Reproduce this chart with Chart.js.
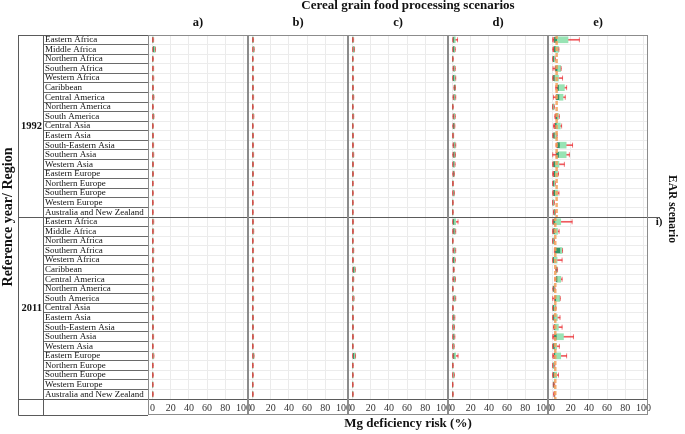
<!DOCTYPE html>
<html>
<head>
<meta charset="utf-8">
<script src="https://cdn.jsdelivr.net/npm/chart.js@4.4.1/dist/chart.umd.min.js"></script>
<style>
  body { margin: 0; background: #fff; }
</style>
</head>
<body>
<canvas id="graficoMg" width="685" height="434"></canvas>
<script>
// Regiões (mesma ordem nos dois anos de referência)
const regioes = ['Eastern Africa', 'Middle Africa', 'Northern Africa', 'Southern Africa', 'Western Africa',
  'Caribbean', 'Central America', 'Northern America', 'South America', 'Central Asia', 'Eastern Asia',
  'South-Eastern Asia', 'Southern Asia', 'Western Asia', 'Eastern Europe', 'Northern Europe',
  'Southern Europe', 'Western Europe', 'Australia and New Zealand'];
const anos = ['1992', '2011'];
const cenarios = ['a)', 'b)', 'c)', 'd)', 'e)'];
const ticksX = [0, 20, 40, 60, 80, 100];

// [mín, q1, mediana, q3, máx] do risco (%): 19 linhas de 1992 e depois 19 de 2011
const cenarioA = [
  [0, 0.1, 0.5, 1, 1.2], [0, 0.5, 1.5, 3, 3.2], [0, 0.1, 0.3, 0.7, 0.9], [0, 0.2, 0.6, 1, 1.2], [0, 0.2, 0.6, 1, 1.3],
  [0, 0.1, 0.4, 0.8, 1], [0, 0.3, 0.8, 1.3, 1.5], [0, 0.1, 0.3, 0.7, 0.9], [0, 0.3, 0.8, 1.3, 1.5], [0, 0.1, 0.3, 0.7, 0.9],
  [0, 0.1, 0.4, 0.8, 1], [0, 0.2, 0.6, 1, 1.2], [0, 0.2, 0.6, 1.1, 1.3], [0, 0.1, 0.4, 0.8, 1], [0, 0.1, 0.4, 0.8, 1],
  [0, 0.1, 0.3, 0.6, 0.8], [0, 0.1, 0.3, 0.6, 0.8], [0, 0.1, 0.3, 0.6, 0.8], [0, 0.1, 0.3, 0.6, 0.8],
  [0, 0.2, 0.6, 1, 1.3], [0, 0.2, 0.6, 1, 1.2], [0, 0.1, 0.3, 0.6, 0.8], [0, 0.2, 0.6, 1.1, 1.3], [0, 0.2, 0.6, 1, 1.2],
  [0, 0.1, 0.4, 0.8, 1], [0, 0.2, 0.7, 1.2, 1.4], [0, 0.1, 0.3, 0.6, 0.8], [0, 0.2, 0.7, 1.2, 1.4], [0, 0.1, 0.3, 0.6, 0.8],
  [0, 0.1, 0.5, 0.9, 1.1], [0, 0.1, 0.4, 0.8, 1], [0, 0.2, 0.6, 1, 1.2], [0, 0.1, 0.3, 0.6, 0.8], [0, 0.2, 0.7, 1.2, 1.5],
  [0, 0.1, 0.3, 0.6, 0.8], [0, 0.1, 0.3, 0.6, 0.8], [0, 0.1, 0.2, 0.5, 0.7], [0, 0.1, 0.3, 0.6, 0.8]
];
const cenarioB = [
  [0, 0.1, 0.4, 0.9, 1.1], [0, 0.3, 0.9, 1.6, 1.8], [0, 0.1, 0.3, 0.6, 0.8], [0, 0.2, 0.5, 0.9, 1.1], [0, 0.2, 0.5, 0.9, 1.1],
  [0, 0.1, 0.4, 0.8, 1], [0, 0.2, 0.6, 1, 1.2], [0, 0.1, 0.3, 0.6, 0.8], [0, 0.2, 0.6, 1.1, 1.4], [0, 0.1, 0.3, 0.6, 0.8],
  [0, 0.1, 0.4, 0.8, 1], [0, 0.2, 0.5, 0.9, 1.1], [0, 0.2, 0.5, 1, 1.2], [0, 0.1, 0.4, 0.8, 1], [0, 0.1, 0.4, 0.8, 1],
  [0, 0.1, 0.3, 0.6, 0.8], [0, 0.1, 0.3, 0.6, 0.8], [0, 0.1, 0.3, 0.6, 0.8], [0, 0.1, 0.3, 0.6, 0.8],
  [0, 0.2, 0.5, 0.9, 1.1], [0, 0.2, 0.6, 1.1, 1.3], [0, 0.1, 0.3, 0.6, 0.8], [0, 0.2, 0.5, 0.9, 1.1], [0, 0.2, 0.5, 0.9, 1.1],
  [0, 0.1, 0.4, 0.8, 1], [0, 0.2, 0.6, 1, 1.2], [0, 0.1, 0.3, 0.6, 0.8], [0, 0.2, 0.6, 1, 1.2], [0, 0.1, 0.3, 0.6, 0.8],
  [0, 0.1, 0.4, 0.8, 1], [0, 0.1, 0.4, 0.8, 1], [0, 0.2, 0.5, 0.9, 1.1], [0, 0.1, 0.3, 0.6, 0.8], [0, 0.3, 0.8, 1.4, 1.6],
  [0, 0.1, 0.3, 0.6, 0.8], [0, 0.1, 0.3, 0.6, 0.8], [0, 0.1, 0.2, 0.5, 0.7], [0, 0.1, 0.3, 0.6, 0.8]
];
const cenarioC = [
  [0, 0.1, 0.5, 1, 1.2], [0, 0.3, 1, 2, 2.2], [0, 0.1, 0.3, 0.6, 0.8], [0, 0.2, 0.5, 0.9, 1.1], [0, 0.2, 0.5, 0.9, 1.1],
  [0, 0.1, 0.4, 0.8, 1], [0, 0.2, 0.6, 1.1, 1.3], [0, 0.1, 0.3, 0.6, 0.8], [0, 0.2, 0.6, 1.1, 1.3], [0, 0.1, 0.3, 0.6, 0.8],
  [0, 0.1, 0.4, 0.8, 1], [0, 0.2, 0.5, 0.9, 1.1], [0, 0.2, 0.6, 1.1, 1.3], [0, 0.1, 0.4, 0.8, 1], [0, 0.1, 0.4, 0.8, 1],
  [0, 0.1, 0.3, 0.6, 0.8], [0, 0.1, 0.3, 0.6, 0.8], [0, 0.1, 0.3, 0.6, 0.8], [0, 0.1, 0.3, 0.6, 0.8],
  [0, 0.2, 0.5, 0.9, 1.1], [0, 0.2, 0.5, 0.9, 1.1], [0, 0.1, 0.3, 0.6, 0.8], [0, 0.2, 0.6, 1.1, 1.3], [0, 0.2, 0.5, 0.9, 1.1],
  [0, 0.5, 1.5, 2.8, 3], [0, 0.2, 0.6, 1.1, 1.3], [0, 0.1, 0.3, 0.6, 0.8], [0, 0.3, 0.8, 1.4, 1.6], [0, 0.1, 0.3, 0.6, 0.8],
  [0, 0.1, 0.4, 0.8, 1], [0, 0.1, 0.4, 0.8, 1], [0, 0.2, 0.5, 0.9, 1.1], [0, 0.1, 0.3, 0.6, 0.8], [0, 0.5, 1.5, 3, 3.3],
  [0, 0.1, 0.3, 0.6, 0.8], [0, 0.1, 0.3, 0.6, 0.8], [0, 0.1, 0.2, 0.5, 0.7], [0, 0.1, 0.3, 0.6, 0.8]
];
const cenarioD = [
  [0, 0.8, 1.5, 3, 5.5], [0, 0.5, 1.5, 2.5, 3], [0, 0.1, 0.3, 0.6, 0.8], [0.5, 1, 1.8, 2.5, 3], [0, 0.5, 1.5, 3, 3.5],
  [1.5, 2, 2.5, 3, 3.2], [0.5, 1, 2, 3, 3.5], [0, 0.1, 0.3, 0.6, 0.8], [0.5, 1, 1.8, 2.5, 3], [0.3, 0.8, 1.5, 2.2, 2.5],
  [0, 0.2, 0.6, 1, 1.2], [0.5, 1, 2, 3, 3.5], [0.3, 0.8, 1.8, 2.8, 3.2], [0, 0.5, 1.2, 2.2, 2.8], [0.3, 0.6, 1.2, 1.8, 2],
  [0, 0.2, 0.5, 0.9, 1], [0, 0.4, 1, 1.8, 2], [0, 0.1, 0.3, 0.6, 0.8], [0, 0.1, 0.3, 0.6, 0.8],
  [0, 0.5, 1.5, 3.5, 6], [0, 0.8, 1.8, 3, 3.5], [0, 0.1, 0.3, 0.5, 0.7], [0.5, 1, 2, 3, 3.5], [0, 0.5, 1.5, 2.5, 3],
  [0.8, 1, 1.3, 1.6, 1.8], [0.3, 1, 2, 2.8, 3.2], [0, 0.1, 0.3, 0.6, 0.8], [0.5, 1, 2, 3, 3.5], [0, 0.2, 0.5, 0.8, 1],
  [0, 0.5, 1.2, 2, 2.5], [0, 0.4, 1, 1.8, 2.2], [0, 0.5, 1.2, 2, 2.5], [0, 0.3, 0.8, 1.5, 1.8], [0, 0.8, 2, 3.5, 6],
  [0, 0.1, 0.3, 0.6, 0.8], [0, 0.3, 0.8, 1.5, 2], [0, 0.1, 0.2, 0.4, 0.5], [0, 0.1, 0.3, 0.6, 0.8]
];
const cenarioE = [
  [0, 1, 5, 17, 29.5], [0.3, 0.8, 3.5, 6.5, 7], [0, 0.3, 1.5, 2.5, 3], [0.5, 2.5, 5.5, 9, 9.5], [0, 0.5, 2, 6.5, 11],
  [3.5, 4.5, 7, 13, 15.5], [1, 3.5, 7.5, 11.5, 14], [0, 0.2, 0.8, 1.5, 2], [2.5, 3, 5, 6.5, 7.5], [1, 2, 4.5, 8.5, 10],
  [0, 0.5, 2, 4.5, 5], [4, 4.5, 8, 15, 22], [0.2, 3.5, 7, 15, 18.5], [0, 0.3, 3, 7, 13], [0, 0.8, 3, 5.5, 6.5],
  [0, 0.3, 1.5, 2.5, 3], [0, 0.5, 2.5, 5.5, 7], [0, 0.2, 0.8, 1.5, 2], [1, 1.3, 2, 2.8, 3.2],
  [0, 0.3, 3, 9, 21.5], [0, 0.3, 2.5, 5.5, 7.2], [0, 0.2, 1, 1.8, 2.2], [2, 2.3, 8.5, 10.5, 11], [0, 0.3, 1.5, 5, 10.5],
  [3.5, 4, 4.5, 5, 5.5], [2.5, 3.5, 5, 9, 10.5], [0.3, 0.8, 1.5, 2.3, 2.7], [0.2, 2, 4, 8, 8.5], [0, 0.3, 1.5, 3.5, 3.8],
  [0, 0.3, 2, 5.3, 8.2], [1, 1.5, 3, 6.4, 10.5], [0, 1, 4.5, 12, 23], [0, 0.2, 2, 4.5, 7.5], [0, 1, 3, 9, 15.5],
  [0, 0.3, 1, 2, 2.5], [0, 0.3, 2, 4.5, 6.5], [0.8, 1, 1.5, 2, 2.4], [1.2, 1.5, 2, 2.4, 2.6]
];
// Linha tracejada do cenário EAR (painel e), um valor por ano
const linhaEAR = [4.5, 3];

const fonte = '"Liberation Serif", "Times New Roman", serif';
const cores = { vermelho: 'rgba(233, 36, 42, 0.75)', tampa: 'rgba(233, 36, 42, 0.6)', escuro: '#349868', claro: '#98e3b4', ear: 'rgba(243, 160, 90, 0.85)' };
const todosCenarios = [cenarioA, cenarioB, cenarioC, cenarioD, cenarioE];

// Rótulos das 38 linhas (região) e coluna do ano (só na linha do meio de cada bloco)
const linhas = anos.flatMap(() => regioes);
const rotulosAno = linhas.map((_, i) => (i % regioes.length === Math.floor(regioes.length / 2) ? anos[Math.floor(i / regioes.length)] : ''));

const datasets = [];
todosCenarios.forEach((dados, p) => {
  const eixo = 'x' + p;
  // bigode (mín a máx)
  datasets.push({ type: 'bar', xAxisID: eixo, yAxisID: 'y', grouped: false, order: 4,
    data: dados.map(d => [d[0], d[4]]), backgroundColor: cores.vermelho, barThickness: 1 });
  // caixa: q1 até mediana (verde escuro, borda vermelha à esquerda)
  datasets.push({ type: 'bar', xAxisID: eixo, yAxisID: 'y', grouped: false, order: 3,
    data: dados.map(d => [d[1], d[2]]), backgroundColor: cores.escuro, barThickness: 6,
    borderColor: cores.vermelho, borderWidth: { left: 1, right: 0, top: 0, bottom: 0 }, borderSkipped: false });
  // caixa: mediana até q3 (verde claro)
  datasets.push({ type: 'bar', xAxisID: eixo, yAxisID: 'y', grouped: false, order: 3,
    data: dados.map(d => [d[2], d[3]]), backgroundColor: cores.claro, barThickness: 6 });
  // terminais do bigode
  [0, 4].forEach(k => {
    datasets.push({ type: 'scatter', xAxisID: eixo, yAxisID: 'y', order: 2,
      data: dados.map((d, i) => ({ x: d[k], y: linhas[i] })),
      pointStyle: 'line', rotation: 90, radius: 2.5, borderColor: cores.tampa, borderWidth: 1 });
  });
});

// Um eixo x por cenário, empilhados lado a lado embaixo
const escalas = {};
cenarios.forEach((nome, p) => {
  escalas['x' + p] = {
    type: 'linear', axis: 'x', position: 'bottom', stack: 'paineis', stackWeight: 1,
    min: -5, max: 105,
    afterBuildTicks: s => { s.ticks = ticksX.map(v => ({ value: v })); },
    afterFit: s => { s.height = 16; },
    grid: { color: '#ebebeb', drawTicks: false },
    border: { display: false },
    ticks: { font: { family: fonte, size: 10 }, color: '#333', padding: 3, maxRotation: 0, autoSkip: false }
  };
});
escalas.yAno = {
  type: 'category', axis: 'y', labels: rotulosAno, position: 'left', weight: 2, offset: true,
  afterFit: s => { s.width = 45; },
  grid: { display: false, drawTicks: false },
  border: { display: false },
  ticks: { autoSkip: false, crossAlign: 'near', padding: 3, font: { family: fonte, size: 10.5, weight: 'bold' }, color: '#111' },
  title: { display: true, text: 'Reference year/ Region', font: { family: fonte, size: 14, weight: 'bold' }, color: '#111', padding: { top: 0 } }
};
escalas.y = {
  type: 'category', axis: 'y', labels: linhas, position: 'left', weight: 1, offset: true,
  afterFit: s => { s.width = 103; },
  grid: { offset: true, color: '#ececec', tickColor: '#6a6a6a', tickLength: 105 },
  border: { display: false },
  ticks: { autoSkip: false, crossAlign: 'far', padding: 0, font: { family: fonte, size: 9 }, color: '#111' }
};

// fronteira entre os blocos 1992 e 2011, na escala das linhas
function separacaoAnos(yReg) {
  return (yReg.getPixelForValue(regioes.length - 1) + yReg.getPixelForValue(regioes.length)) / 2;
}

// Linha tracejada EAR no painel e, posicionada pela escala x4
const linhaReferencia = {
  id: 'linhaReferencia',
  afterDatasetsDraw(chart) {
    const { ctx, chartArea: a, scales } = chart;
    const sep = separacaoAnos(scales.y);
    ctx.save();
    ctx.strokeStyle = cores.ear;
    ctx.lineWidth = 2.5;
    ctx.setLineDash([4, 2]);
    anos.forEach((ano, k) => {
      const px = scales.x4.getPixelForValue(linhaEAR[k]);
      ctx.beginPath();
      ctx.moveTo(px, k === 0 ? a.top : sep);
      ctx.lineTo(px, k === 0 ? sep : a.bottom);
      ctx.stroke();
    });
    ctx.restore();
  }
};

// Molduras da tabela/painéis e textos soltos (título, letras, eixo x, faixa da direita)
const moldura = {
  id: 'moldura',
  afterDraw(chart) {
    const { ctx, chartArea: a, scales } = chart;
    const paineis = cenarios.map((_, p) => scales['x' + p]);
    const base = paineis[0].bottom;
    const yReg = scales.y;
    const esq = yReg.right - 130;
    const colReg = yReg.right - 105;
    const sep = separacaoAnos(yReg);
    ctx.save();
    ctx.strokeStyle = '#5a5a5a';
    ctx.lineWidth = 1;
    ctx.beginPath();
    ctx.moveTo(esq + 0.5, a.top + 0.5); ctx.lineTo(esq + 0.5, base + 0.5); ctx.lineTo(a.left, base + 0.5);
    ctx.moveTo(esq, a.top + 0.5); ctx.lineTo(a.left, a.top + 0.5);
    ctx.moveTo(colReg + 0.5, a.top); ctx.lineTo(colReg + 0.5, base);
    ctx.moveTo(a.left + 0.5, a.top); ctx.lineTo(a.left + 0.5, base);
    ctx.moveTo(esq, Math.round(a.bottom) + 0.5); ctx.lineTo(a.right, Math.round(a.bottom) + 0.5);
    ctx.moveTo(esq, Math.round(sep) + 0.5); ctx.lineTo(a.right + 12, Math.round(sep) + 0.5);
    ctx.stroke();
    ctx.strokeStyle = '#8c8c8c';
    paineis.forEach(s => {
      ctx.strokeRect(Math.round(s.left) + 0.5, a.top + 0.5, Math.round(s.width) - 1, base - a.top - 1);
    });
    ctx.fillStyle = '#111';
    ctx.textAlign = 'center';
    ctx.textBaseline = 'middle';
    const centro = (a.left + a.right) / 2 + 10;
    ctx.font = 'bold 13px ' + fonte;
    ctx.fillText('Cereal grain food processing scenarios', centro, a.top - 29);
    ctx.fillText('Mg deficiency risk (%)', centro, base + 9);
    ctx.font = 'bold 12.5px ' + fonte;
    paineis.forEach((s, p) => ctx.fillText(cenarios[p], (s.left + s.right) / 2, a.top - 12));
    ctx.font = 'bold 11px ' + fonte;
    ctx.fillText('i)', a.right + 11, sep + 5);
    ctx.translate(a.right + 24, (a.top + a.bottom) / 2 - 8);
    ctx.rotate(Math.PI / 2);
    ctx.font = 'bold 11.5px ' + fonte;
    ctx.fillText('EAR scenario', 0, 0);
    ctx.restore();
  }
};

new Chart(document.getElementById('graficoMg').getContext('2d'), {
  type: 'bar',
  data: { labels: linhas, datasets },
  options: {
    indexAxis: 'y',
    responsive: false,
    animation: false,
    events: [],
    layout: { padding: { left: 0, top: 35, right: 37, bottom: 19 } },
    scales: escalas,
    plugins: { legend: { display: false }, tooltip: { enabled: false }, title: { display: false } }
  },
  plugins: [linhaReferencia, moldura]
});
</script>
</body>
</html>
